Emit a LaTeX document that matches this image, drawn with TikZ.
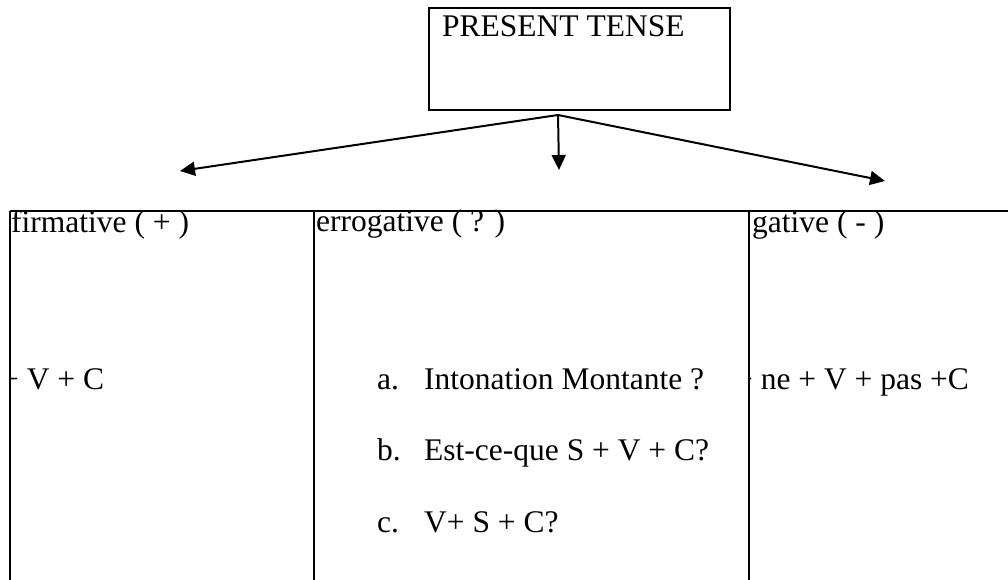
\documentclass[tikz,border=0pt]{standalone}
\usepackage{fontspec}
\setmainfont{Liberation Serif}
\usetikzlibrary{arrows.meta}
\begin{document}
\begin{tikzpicture}[x=1pt,y=-1pt,
  txt/.style={anchor=base west,inner sep=0pt,font=\fontsize{31.5}{36}\selectfont},
  rule/.style={line width=2pt},
  conn/.style={line width=2pt,-{Triangle[length=15pt,width=14pt]}}]
\useasboundingbox (0,0) rectangle (1008,580);
% top box
\node[draw,line width=2pt,anchor=north west,minimum width=301pt,minimum height=102pt,inner sep=0pt] (pt) at (428,7) {};
\node[txt] (ptl) at (442,37) {PRESENT TENSE};
% arrows
\coordinate (o) at (558,115);
\coordinate (l) at (180,171);
\coordinate (m) at (559,170);
\coordinate (r) at (885,181);
\draw[conn] (o) -- (l);
\draw[conn] (o) -- (m);
\draw[conn] (o) -- (r);
% table lines
\coordinate (t0) at (10,211);
\coordinate (t1) at (314,211);
\coordinate (t2) at (749,211);
\coordinate (t3) at (1010,211);
\coordinate (b0) at (10,590);
\coordinate (b1) at (314,590);
\coordinate (b2) at (749,590);
\draw[rule] (t0) -- (t3);
\draw[rule] (t0) -- (b0);
\draw[rule] (t1) -- (b1);
\draw[rule] (t2) -- (b2);
% column 1
\begin{scope}
\clip (11,212) rectangle (313,590);
\node[txt] (h1) at (11,232) {firmative ( + )};
\node[txt] (c1) at (1,389) {+ V + C};
\end{scope}
% column 2
\node[txt] (h2) at (316,231) {errogative ( ? )};
\node[txt] (ia) at (377,389) {a.};
\node[txt] (ta) at (424,389) {Intonation Montante ?};
\node[txt] (ib) at (377,460) {b.};
\node[txt] (tb) at (424,460) {Est-ce-que S + V + C?};
\node[txt] (ic) at (377,532) {c.};
\node[txt] (tc) at (424,532) {V+ S + C?};
% column 3
\begin{scope}
\clip (750,212) rectangle (1010,590);
\node[txt] (h3) at (752,232) {gative ( - )};
\node[txt] (c3) at (735,389) {+ ne + V + pas +C};
\end{scope}
\end{tikzpicture}
\end{document}
